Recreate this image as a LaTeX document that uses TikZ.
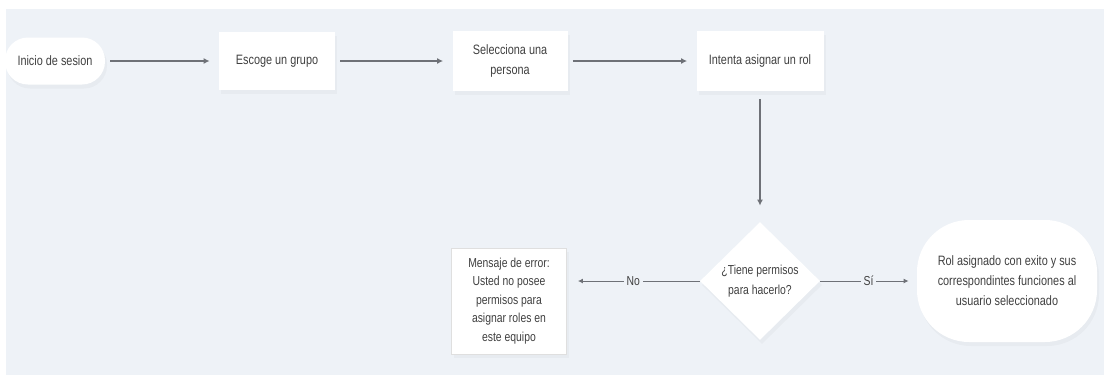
\documentclass[tikz,border=0pt]{standalone}
\usepackage{fontspec}
\setmainfont{Liberation Sans}[FakeStretch=0.8]
\usetikzlibrary{positioning,shapes.geometric,shadows,arrows.meta}
\definecolor{panel}{HTML}{EEF2F7}
\definecolor{ink}{HTML}{404040}
\definecolor{wire}{HTML}{6E7177}
\tikzstyle{box} = [fill=white,text=ink,align=center,inner sep=2pt,
  font=\fontsize{6.8}{10}\selectfont,
  drop shadow={opacity=0.06,shadow xshift=1pt,shadow yshift=-2pt}]
\tikzstyle{flow} = [draw=wire,line width=1pt,-{Latex[length=3pt,width=3pt]},
  shorten <=2.5pt,shorten >=4.5pt]
\tikzstyle{branch} = [draw=wire,line width=0.5pt,-{Latex[length=2.5pt,width=2.5pt]}]
\tikzstyle{tag} = [fill=panel,text=ink,inner sep=1.5pt,font=\fontsize{6.5}{7}\selectfont]

\begin{document}
\begin{tikzpicture}[x=0.5pt,y=-0.5pt,on grid]
   % background panel
   \useasboundingbox[fill=white] (0,0) rectangle (1104,377);
   \fill[panel] (6,9) rectangle (1104,375);

   \node[box,rounded corners=11.5pt,minimum width=50pt,minimum height=23.5pt] (inicio) at (55,61) {Inicio de sesion};
   \node[box,minimum width=58pt,minimum height=29pt] (grupo) [right=111pt of inicio] {Escoge un grupo};
   \node[box,minimum width=57.5pt,minimum height=30pt] (persona) [right=116.5pt of grupo] {Selecciona una\\ persona};
   \node[box,minimum width=63.5pt,minimum height=30pt] (rol) [right=125pt of persona] {Intenta asignar un rol};
   \node[box,diamond,inner sep=0pt,minimum width=60pt,minimum height=59pt,
     font=\fontsize{6.5}{10}\selectfont] (permiso) [below=110pt of rol] {¿Tiene permisos\\ para hacerlo?};
   \node[box,draw=gray!25,line width=0.4pt,minimum width=57.5pt,minimum height=53pt,
     font=\fontsize{6.5}{9.2}\selectfont] (error) [left=125.5pt of permiso,yshift=-10pt] {Mensaje de error:\\ Usted no posee\\ permisos para\\ asignar roles en\\ este equipo};
   \node[box,rounded corners=26pt,minimum width=90pt,minimum height=61pt] (exito) [right=123.5pt of permiso] {Rol asignado con exito y sus\\ correspondintes funciones al\\ usuario seleccionado};

   \path[flow] (inicio) -- (grupo);
   \path[flow] (grupo) -- (persona);
   \path[flow] (persona) -- (rol);
   \path[flow,shorten <=4pt,shorten >=8pt] (rol) -- (permiso);
   \path[branch,shorten >=5.5pt] (permiso.west) -- node[tag] {No} (permiso.west -| error.east);
   \path[branch,shorten >=4pt] (permiso) -- node[tag] {Sí} (exito);

  \end{tikzpicture}
\end{document}
